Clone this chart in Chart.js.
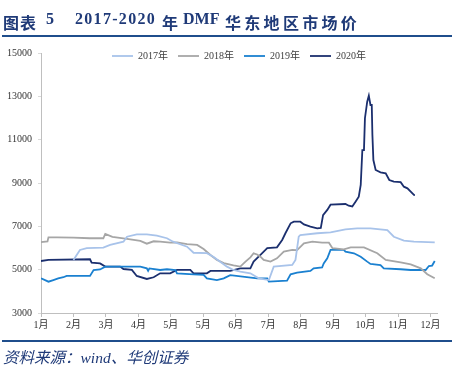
<!DOCTYPE html>
<html>
<head>
<meta charset="utf-8">
<script src="https://cdn.jsdelivr.net/npm/chart.js@4/dist/chart.umd.min.js"></script>
<style>
  html, body { margin: 0; padding: 0; background: #fff; }
  #wrap { position: relative; width: 461px; height: 373px; overflow: hidden; }
  #chart { position: absolute; left: 0; top: 0; }
  .ttl { position: absolute; top: 10px; color: #1F3A78; font-weight: bold;
         font-family: "Liberation Serif", "Noto Sans CJK SC", serif; font-size: 16px; white-space: nowrap; }
  .rule { position: absolute; left: 2px; width: 450px; height: 2px; background: #1F4E8C; }
  #src { position: absolute; left: 3px; top: 345px; color: #1F3A78; font-style: italic;
         font-family: "Liberation Serif", "Noto Sans CJK SC", serif; font-size: 15.5px; white-space: nowrap; }
</style>
</head>
<body>
<div id="wrap">
  <canvas id="chart" width="461" height="373"></canvas>
  <div class="ttl" style="left:3px; letter-spacing:1px">图表</div>
  <div class="ttl" style="left:46px">5</div>
  <div class="ttl" style="left:75px; letter-spacing:1.3px">2017-2020</div>
  <div class="ttl" style="left:162px">年</div>
  <div class="ttl" style="left:183px">DMF</div>
  <div class="ttl" style="left:225px; letter-spacing:3.3px">华东地区市场价</div>
  <div class="rule" style="top:35px"></div>
  <div class="rule" style="top:340px"></div>
  <div id="src">资料来源：wind、华创证券</div>
</div>
<script>
// ── Data (x = position on the month axis, 0 = first label) ──────

const MONTH_LABELS = ['1月', '2月', '3月', '4月', '5月', '5月', '6月', '7月', '8月', '9月', '10月', '11月', '12月'];
const Y_TICKS = [3000, 5000, 7000, 9000, 11000, 13000, 15000];

const X_2017 = [1.0, 1.1, 1.2, 1.41, 1.92, 2.13, 2.54, 2.65, 2.95, 3.26, 3.57, 3.88, 4.07, 4.5, 4.7, 5.11, 5.31, 5.52, 5.73, 5.93, 6.14, 6.45, 6.71, 7.02, 7.17, 7.74, 7.84, 7.94, 7.99, 8.51, 8.92, 9.38, 9.74, 10.15, 10.67, 10.87, 11.18, 11.49, 12.13];
const Y_2017 = [5450, 5680, 5910, 5990, 6020, 6140, 6290, 6520, 6630, 6630, 6570, 6450, 6290, 6060, 5780, 5760, 5600, 5370, 5140, 4985, 4910, 4830, 4600, 4520, 5140, 5215, 5450, 6520, 6600, 6680, 6725, 6860, 6910, 6910, 6830, 6520, 6340, 6290, 6260];

const X_2018 = [0, 0.2, 0.23, 0.5, 1.0, 1.5, 1.92, 1.98, 2.2, 2.65, 3.06, 3.26, 3.47, 3.67, 3.98, 4.19, 4.5, 4.81, 5.01, 5.22, 5.42, 5.63, 5.93, 6.14, 6.3, 6.45, 6.55, 6.66, 6.76, 6.86, 7.07, 7.27, 7.48, 7.74, 7.89, 8.1, 8.36, 8.66, 8.87, 8.98, 9.33, 9.54, 9.95, 10.36, 10.62, 11.08, 11.39, 11.7, 11.9, 12.13];
const Y_2018 = [6270, 6300, 6490, 6490, 6480, 6450, 6450, 6650, 6510, 6420, 6330, 6200, 6310, 6290, 6250, 6260, 6180, 6140, 5950, 5680, 5450, 5300, 5200, 5140, 5370, 5570, 5756, 5700, 5600, 5450, 5370, 5525, 5830, 5910, 5900, 6217, 6290, 6245, 6245, 5990, 5940, 6030, 6030, 5756, 5447, 5340, 5240, 5060, 4790, 4600];

const X_2019 = [0, 0.23, 0.38, 0.53, 0.69, 0.79, 1.51, 1.62, 1.82, 1.98, 3.06, 3.26, 3.3, 3.34, 3.67, 3.88, 4.14, 4.19, 4.7, 5.01, 5.11, 5.42, 5.63, 5.83, 6.66, 6.97, 7.02, 7.58, 7.69, 7.89, 8.3, 8.4, 8.66, 8.71, 8.82, 8.92, 9.33, 9.38, 9.64, 9.85, 10.05, 10.15, 10.46, 10.56, 11.08, 11.39, 11.85, 11.95, 12.05, 12.13];
const Y_2019 = [4600, 4445, 4520, 4600, 4650, 4710, 4710, 4985, 5010, 5140, 5140, 5060, 4950, 5060, 4985, 5020, 4985, 4830, 4785, 4760, 4600, 4520, 4600, 4750, 4600, 4600, 4445, 4490, 4785, 4860, 4940, 5060, 5100, 5290, 5525, 5910, 5910, 5830, 5756, 5600, 5370, 5262, 5215, 5060, 5020, 4985, 4985, 5170, 5190, 5400];

const X_2020 = [0, 0.23, 1.51, 1.56, 1.82, 1.98, 2.44, 2.54, 2.8, 2.95, 3.26, 3.47, 3.67, 3.98, 4.19, 4.6, 4.7, 5.11, 5.22, 5.52, 5.83, 6.14, 6.45, 6.55, 6.76, 6.97, 7.27, 7.43, 7.53, 7.69, 7.79, 7.99, 8.1, 8.3, 8.51, 8.62, 8.69, 8.82, 8.92, 9.38, 9.48, 9.59, 9.69, 9.79, 9.85, 9.9, 9.95, 9.98, 10.05, 10.1, 10.15, 10.19, 10.21, 10.24, 10.31, 10.46, 10.62, 10.73, 10.87, 11.08, 11.18, 11.29, 11.39, 11.49, 11.52];
const Y_2020 = [5400, 5450, 5480, 5320, 5290, 5140, 5140, 5030, 4990, 4710, 4570, 4650, 4830, 4830, 4990, 4990, 4830, 4830, 4940, 4940, 4940, 5060, 5060, 5370, 5680, 5990, 6030, 6370, 6680, 7140, 7215, 7215, 7090, 6990, 6910, 6930, 7520, 7760, 8000, 8030, 7950, 7920, 8140, 8370, 8910, 10520, 10520, 11990, 12750, 13030, 12600, 12600, 11215, 10060, 9600, 9490, 9450, 9140, 9060, 9040, 8830, 8755, 8600, 8450, 8445];

const SERIES = [
  { name: '2017年', xs: X_2017, ys: Y_2017, color: '#A8C3EA' },
  { name: '2018年', xs: X_2018, ys: Y_2018, color: '#A6A6A6' },
  { name: '2019年', xs: X_2019, ys: Y_2019, color: '#1A80D0' },
  { name: '2020年', xs: X_2020, ys: Y_2020, color: '#1B2F6E' },
];

const SERIF = '"Liberation Serif", "Noto Sans CJK SC", serif';

// ── Plot area geometry ────────────────────────────────────────

const PLOT_LEFT = 41, PLOT_RIGHT = 437, PLOT_TOP = 53, PLOT_BOTTOM = 313;
const X_AXIS_H = 20;
const LEGEND_Y = 56;   // centre line of the legend row

// legend sits inside the plot, in one row along the top
const legendInPlot = {
  id: 'legendInPlot',
  beforeLayout(chart) {
    if (chart.legend) chart.legend.isHorizontal = () => true;
  },
  afterLayout(chart) {
    const lg = chart.legend;
    if (!lg) return;
    const pad = lg.options.labels.padding;
    const fs = lg.options.labels.font.size;
    const h = lg.bottom - lg.top;
    lg.left = PLOT_LEFT;
    lg.right = PLOT_RIGHT;
    lg.width = PLOT_RIGHT - PLOT_LEFT;
    lg.top = LEGEND_Y - fs / 2 - pad;
    lg.bottom = lg.top + h;
  },
};

new Chart(document.getElementById('chart'), {
  type: 'line',
  data: {
    datasets: SERIES.map(s => ({
      label: s.name,
      data: s.xs.map((x, i) => ({ x, y: s.ys[i] })),
      borderColor: s.color,
      backgroundColor: s.color,
      borderWidth: 1.8,
      pointRadius: 0,
      tension: 0,
      fill: false,
    })),
  },
  options: {
    responsive: false,
    devicePixelRatio: 1,
    animation: false,
    layout: {
      padding: { top: PLOT_TOP, left: 0, right: 461 - PLOT_RIGHT, bottom: 373 - PLOT_BOTTOM - X_AXIS_H },
    },
    plugins: {
      legend: {
        position: 'chartArea',
        align: 'center',
        labels: {
          usePointStyle: true,
          pointStyle: 'line',
          pointStyleWidth: 21,
          padding: 10,
          color: '#404040',
          font: { family: SERIF, size: 10 },
        },
      },
      tooltip: { enabled: false },
    },
    scales: {
      x: {
        type: 'linear',
        min: 0,
        max: 12.2,
        afterBuildTicks: scale => { scale.ticks = MONTH_LABELS.map((_, i) => ({ value: i })); },
        afterFit: scale => { scale.height = X_AXIS_H; },
        ticks: {
          autoSkip: false,
          maxRotation: 0,
          padding: 2,
          color: '#333',
          font: { family: SERIF, size: 10 },
          callback: v => MONTH_LABELS[v] ?? '',
        },
        grid: { drawOnChartArea: false, drawTicks: true, tickLength: 4, color: '#BFBFBF' },
        border: { color: '#BFBFBF' },
      },
      y: {
        min: Y_TICKS[0],
        max: Y_TICKS[Y_TICKS.length - 1],
        afterBuildTicks: scale => { scale.ticks = Y_TICKS.map(v => ({ value: v })); },
        afterFit: scale => { scale.width = PLOT_LEFT; },
        ticks: {
          padding: 6,
          color: '#333',
          font: { family: SERIF, size: 10 },
          callback: v => String(v),
        },
        grid: { drawOnChartArea: false, drawTicks: true, tickLength: 3, color: '#D9D9D9' },
        border: { color: '#BFBFBF' },
      },
    },
  },
  plugins: [legendInPlot],
});
</script>
</body>
</html>
